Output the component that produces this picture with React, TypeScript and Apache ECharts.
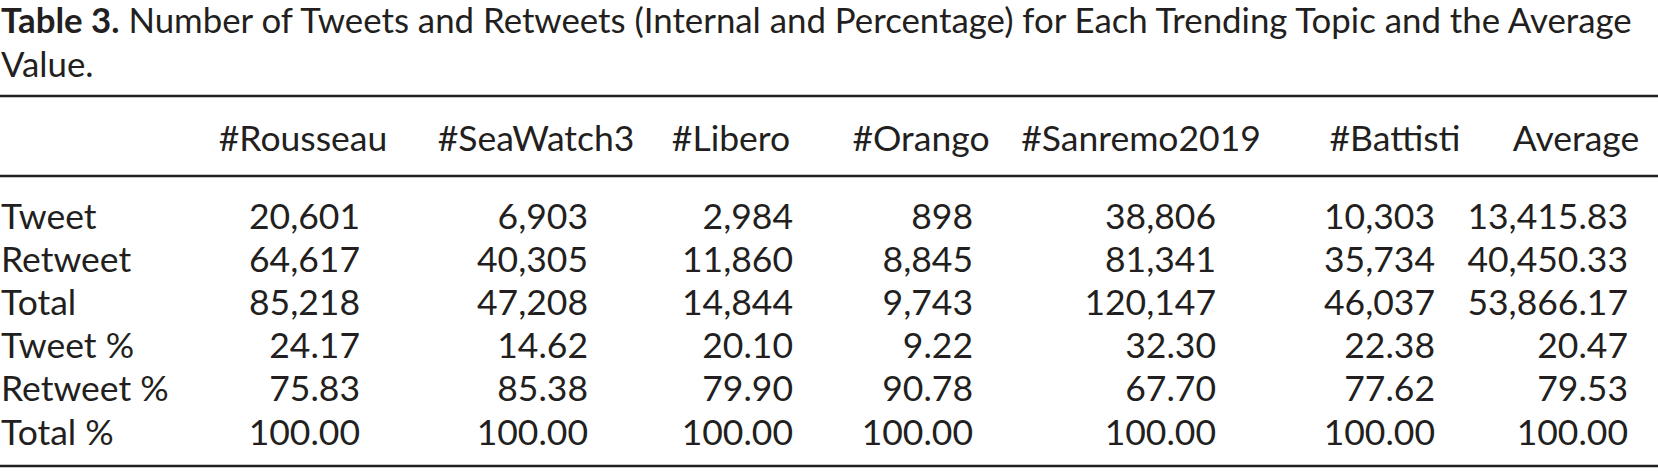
import React, { useEffect, useRef } from "react";
import * as echarts from "echarts";

const titleBold = "Table 3.";
const titleRest = " Number of Tweets and Retweets (Internal and Percentage) for Each Trending Topic and the Average";
const titleLine2 = "Value.";

const columns = ["#Rousseau", "#SeaWatch3", "#Libero", "#Orango", "#Sanremo2019", "#Battisti", "Average"];
const rowLabels = ["Tweet", "Retweet", "Total", "Tweet %", "Retweet %", "Total %"];

const tweetCounts = [20601, 6903, 2984, 898, 38806, 10303, 13415.83];
const retweetCounts = [64617, 40305, 11860, 8845, 81341, 35734, 40450.33];
const totalCounts = [85218, 47208, 14844, 9743, 120147, 46037, 53866.17];
const tweetPct = [24.17, 14.62, 20.1, 9.22, 32.3, 22.38, 20.47];
const retweetPct = [75.83, 85.38, 79.9, 90.78, 67.7, 77.62, 79.53];
const totalPct = [100, 100, 100, 100, 100, 100, 100];

const countRows = [tweetCounts, retweetCounts, totalCounts];
const pctRows = [tweetPct, retweetPct, totalPct];

// layout
const FONT = "Lato, 'Open Sans', sans-serif";
const FS = 35.5;
const TITLE_FS = 34.8;
const COLOR = "#231f20";
const headerCenters = [303, 536, 731, 921, 1141, 1395, 1576];
const valueRights = [360, 588, 793, 973, 1216, 1435, 1628];
const rowYs = [215, 258, 301, 344, 387, 431];

function fmtCount(v: number, isAvg: boolean) {
  return v.toLocaleString("en-US", {
    minimumFractionDigits: isAvg ? 2 : 0,
    maximumFractionDigits: isAvg ? 2 : 0,
  });
}
function fmtPct(v: number) {
  return v.toFixed(2);
}

export default function App() {
  const ref = useRef<HTMLDivElement>(null);
  useEffect(() => {
    document.body.style.margin = "0";
    const chart = echarts.init(ref.current!, null, { renderer: "svg" });
    const g: any[] = [];
    const txt = (text: string, x: number, y: number, align: string, size = FS) => ({
      type: "text",
      x,
      y,
      style: {
        text,
        fill: COLOR,
        font: `${size}px ${FONT}`,
        align,
        verticalAlign: "middle",
      },
    });
    // title
    g.push({
      type: "text",
      x: 1,
      y: 19,
      style: {
        text: `{b|${titleBold}}{r|${titleRest}}`,
        rich: {
          b: { fontFamily: FONT, fontSize: TITLE_FS, fontWeight: "bold", fill: COLOR },
          r: { fontFamily: FONT, fontSize: TITLE_FS, fill: COLOR },
        },
        verticalAlign: "middle",
        align: "left",
      },
    });
    g.push(txt(titleLine2, 1, 63, "left", TITLE_FS));
    // rules
    const rule = (y: number) => ({
      type: "line",
      shape: { x1: 0, y1: y, x2: 1658, y2: y },
      style: { stroke: COLOR, lineWidth: 2.5 },
    });
    g.push(rule(96), rule(176), rule(466));
    // header
    columns.forEach((c, i) => g.push(txt(c, headerCenters[i], 137, "center")));
    // body
    const allRows = [
      ...countRows.map((r) => r.map((v, i) => fmtCount(v, i === columns.length - 1))),
      ...pctRows.map((r) => r.map((v) => fmtPct(v))),
    ];
    rowLabels.forEach((lab, ri) => {
      g.push(txt(lab, 1, rowYs[ri], "left"));
      allRows[ri].forEach((s, ci) => g.push(txt(s, valueRights[ci], rowYs[ri], "right")));
    });
    chart.setOption({ animation: false, backgroundColor: "#ffffff", graphic: g });
    return () => chart.dispose();
  }, []);
  return <div ref={ref} style={{ position: "fixed", left: 0, top: 0, width: 1658, height: 471 }} />;
}
